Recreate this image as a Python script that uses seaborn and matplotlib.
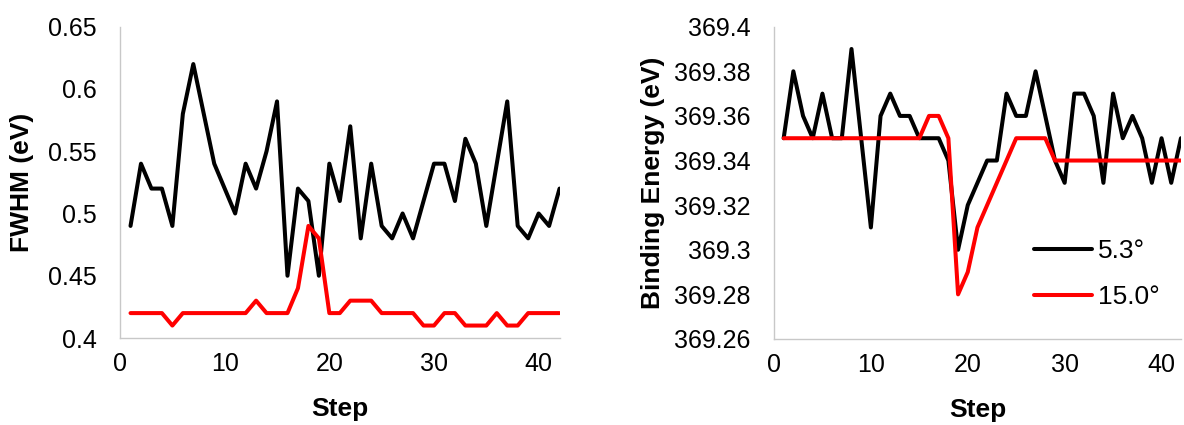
import numpy as np
import pandas as pd
import matplotlib
matplotlib.use('Agg')
import matplotlib.pyplot as plt
import seaborn as sns
from matplotlib.ticker import FuncFormatter

# dados
steps = list(range(1, 43))
fwhm_53 = [0.49, 0.54, 0.52, 0.52, 0.49, 0.58, 0.62, 0.58, 0.54, 0.52,
           0.50, 0.54, 0.52, 0.55, 0.59, 0.45, 0.52, 0.51, 0.45, 0.54,
           0.51, 0.57, 0.48, 0.54, 0.49, 0.48, 0.50, 0.48, 0.51, 0.54,
           0.54, 0.51, 0.56, 0.54, 0.49, 0.54, 0.59, 0.49, 0.48, 0.50,
           0.49, 0.52]
fwhm_150 = [0.42, 0.42, 0.42, 0.42, 0.41, 0.42, 0.42, 0.42, 0.42, 0.42,
            0.42, 0.42, 0.43, 0.42, 0.42, 0.42, 0.44, 0.49, 0.48, 0.42,
            0.42, 0.43, 0.43, 0.43, 0.42, 0.42, 0.42, 0.42, 0.41, 0.41,
            0.42, 0.42, 0.41, 0.41, 0.41, 0.42, 0.41, 0.41, 0.42, 0.42,
            0.42, 0.42]
be_53 = [369.35, 369.38, 369.36, 369.35, 369.37, 369.35, 369.35, 369.39, 369.35, 369.31,
         369.36, 369.37, 369.36, 369.36, 369.35, 369.35, 369.35, 369.34, 369.30, 369.32,
         369.33, 369.34, 369.34, 369.37, 369.36, 369.36, 369.38, 369.36, 369.34, 369.33,
         369.37, 369.37, 369.36, 369.33, 369.37, 369.35, 369.36, 369.35, 369.33, 369.35,
         369.33, 369.35]
be_150 = [369.35, 369.35, 369.35, 369.35, 369.35, 369.35, 369.35, 369.35, 369.35, 369.35,
          369.35, 369.35, 369.35, 369.35, 369.35, 369.36, 369.36, 369.35, 369.28, 369.29,
          369.31, 369.32, 369.33, 369.34, 369.35, 369.35, 369.35, 369.35, 369.34, 369.34,
          369.34, 369.34, 369.34, 369.34, 369.34, 369.34, 369.34, 369.34, 369.34, 369.34,
          369.34, 369.34]
labels = ['5.3°', '15.0°']
cores = ['black', '#FF0000']

sns.set_style('white')
plt.rcParams['font.family'] = ['Liberation Sans', 'DejaVu Sans']
plt.rcParams['text.color'] = 'black'
plt.rcParams['axes.labelcolor'] = 'black'
plt.rcParams['xtick.color'] = 'black'
plt.rcParams['ytick.color'] = 'black'

df_fwhm = pd.DataFrame({'Step': steps * 2, 'valor': fwhm_53 + fwhm_150,
                        'angulo': [labels[0]] * 42 + [labels[1]] * 42})
df_be = pd.DataFrame({'Step': steps * 2, 'valor': be_53 + be_150,
                      'angulo': [labels[0]] * 42 + [labels[1]] * 42})

fig = plt.figure(figsize=(11.84, 4.25), dpi=100)
ax1 = fig.add_axes([0.1014, 0.2047, 0.3712, 0.7325])
ax2 = fig.add_axes([0.6537, 0.2024, 0.3437, 0.7348])

paleta = dict(zip(labels, cores))
sns.lineplot(data=df_fwhm, x='Step', y='valor', hue='angulo', palette=paleta,
             linewidth=2.9, ax=ax1, legend=False)
sns.lineplot(data=df_be, x='Step', y='valor', hue='angulo', palette=paleta,
             linewidth=2.9, ax=ax2)

fmt = FuncFormatter(lambda v, p: f'{round(v, 2):g}')
for ax in (ax1, ax2):
    ax.set_xlim(0, 42)
    ax.set_xticks([0, 10, 20, 30, 40])
    ax.yaxis.set_major_formatter(fmt)
    ax.tick_params(axis='both', length=0, labelsize=18)
    ax.tick_params(axis='y', pad=17)
    ax.tick_params(axis='x', pad=10)
    for s in ['top', 'right']:
        ax.spines[s].set_visible(False)
    for s in ['left', 'bottom']:
        ax.spines[s].set_color('#C8C8C8')
        ax.spines[s].set_linewidth(1.0)
    ax.set_xlabel('Step', fontsize=19, fontweight='bold', labelpad=15)

ax1.set_ylim(0.4, 0.65)
ax1.set_yticks(np.arange(0.4, 0.651, 0.05))
ax1.set_ylabel('FWHM (eV)', fontsize=19, fontweight='bold', labelpad=10)

ax2.set_ylim(369.26, 369.4)
ax2.set_yticks(np.arange(369.26, 369.401, 0.02))
ax2.set_ylabel('Binding Energy (eV)', fontsize=19, fontweight='bold', labelpad=6)
ax2.legend(loc='upper left', bbox_to_anchor=(0.64, 0.32), frameon=False,
           fontsize=19, handlelength=2.2, handletextpad=0.2, labelspacing=0.85,
           borderpad=0, borderaxespad=0)

plt.savefig('out.png', dpi=100)
